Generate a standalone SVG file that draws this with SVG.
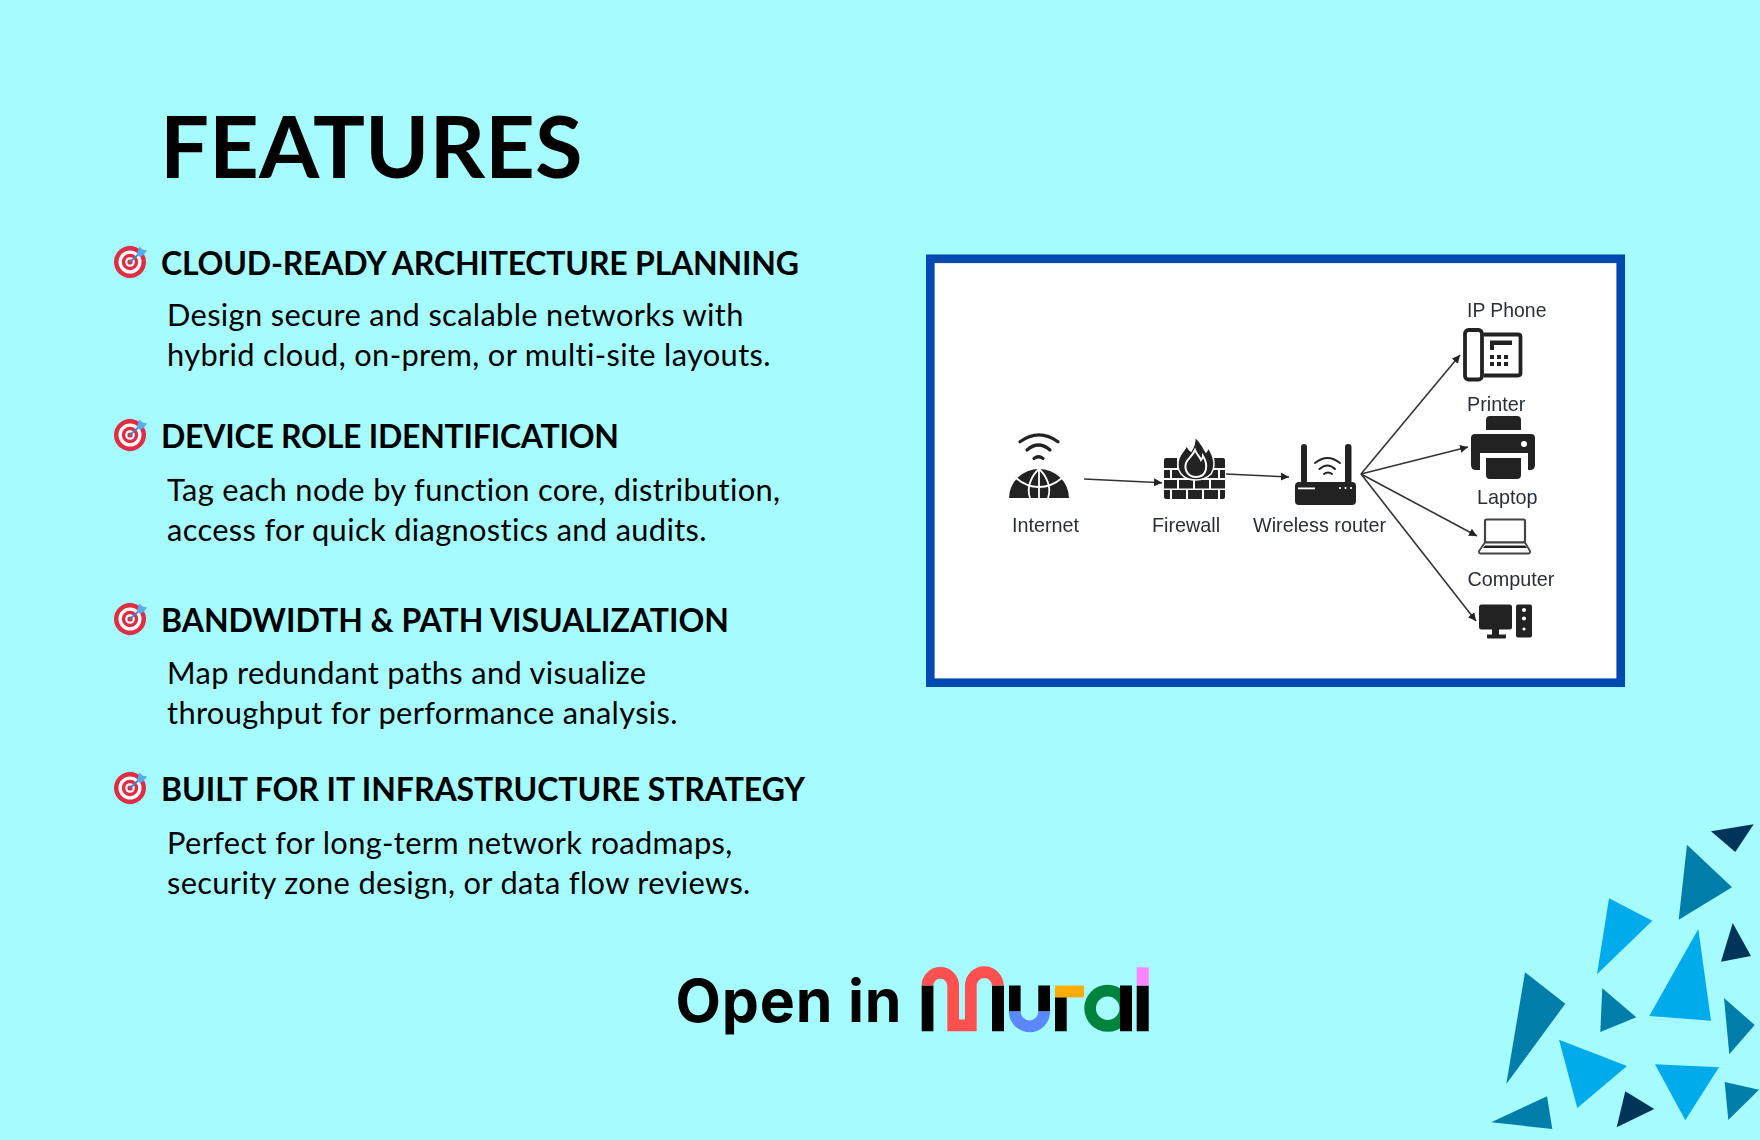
<svg xmlns="http://www.w3.org/2000/svg" width="1760" height="1140" viewBox="0 0 1760 1140">
<style>
.h{font:700 32px Lato,sans-serif;fill:#000;font-variant-ligatures:none}
.b{font:400 30.800px Lato,sans-serif;fill:#000;letter-spacing:.35px}
.l{font:400 19.800px "Liberation Sans",Arial,sans-serif;fill:#2b2f36}
.i{fill:#222}
.w{fill:none;stroke:#222;stroke-width:3.200;stroke-linecap:round}
.g{fill:none;stroke:#fff;stroke-width:1.800}
.c{fill:none;stroke:#333;stroke-width:1.600;marker-end:url(#a)}
.br{fill:#00abeb}.te{fill:#007da8}.da{fill:#003459}
</style>
<defs>
<marker id="a" markerUnits="userSpaceOnUse" markerWidth="10" markerHeight="10" refX="8" refY="4" orient="auto"><path d="M0,0L8,4L0,8z" fill="#222"/></marker>
<filter id="s" x="0" y="0" width="1" height="1"><feGaussianBlur stdDeviation="0.45"/></filter>
<g id="target">
<circle r="16" fill="#dd2e44"/><circle r="11.500" fill="#fff"/><circle r="8.200" fill="#dd2e44"/><circle r="4.800" fill="#fff"/><circle r="2.600" fill="#dd2e44"/>
<path d="M0,0L11,-10" stroke="#3b88c3" stroke-width="1.800"/>
<path d="M7,-8L9.500,-15.500L12.500,-12.500L17,-11.500L13.500,-7L10,-5z" fill="#55acee"/>
</g>
</defs>
<rect width="1760" height="1140" fill="#a6fbff"/>
<text x="160" y="178" font-family="Lato,sans-serif" font-weight="700" font-size="86.700" fill="#000">FEATURES</text>
<g id="feature-1"><use href="#target" x="130" y="262"/><text class="h" x="161" y="275" textLength="638" lengthAdjust="spacing">CLOUD-READY ARCHITECTURE PLANNING</text><text class="b" x="167" y="326">Design secure and scalable networks with</text><text class="b" x="167" y="366">hybrid cloud, on-prem, or multi-site layouts.</text></g>
<g id="feature-2"><use href="#target" x="130" y="435"/><text class="h" x="161" y="448" textLength="458" lengthAdjust="spacing">DEVICE ROLE IDENTIFICATION</text><text class="b" x="167" y="501">Tag each node by function core, distribution,</text><text class="b" x="167" y="541">access for quick diagnostics and audits.</text></g>
<g id="feature-3"><use href="#target" x="130" y="619"/><text class="h" x="161" y="632" textLength="568" lengthAdjust="spacing">BANDWIDTH &amp; PATH VISUALIZATION</text><text class="b" x="167" y="684">Map redundant paths and visualize</text><text class="b" x="167" y="724">throughput for performance analysis.</text></g>
<g id="feature-4"><use href="#target" x="130" y="788"/><text class="h" x="161" y="801" textLength="644" lengthAdjust="spacing">BUILT FOR IT INFRASTRUCTURE STRATEGY</text><text class="b" x="167" y="854">Perfect for long-term network roadmaps,</text><text class="b" x="167" y="894">security zone design, or data flow reviews.</text></g>

<rect x="930.300" y="258.800" width="690.400" height="423.900" fill="#fff" stroke="#0049b0" stroke-width="8.600"/>
<g filter="url(#s)">
<g id="connectors">
<path class="c" d="M1084,479L1162,482.700"/>
<path class="c" d="M1226,474L1289,477"/>
<path class="c" d="M1361,474L1460,355"/>
<path class="c" d="M1361,474L1468,447"/>
<path class="c" d="M1361,474L1477,536"/>
<path class="c" d="M1361,474L1476,621"/>
</g>
<g id="internet">
<path class="i" d="M1009,498A30,29 0 0 1 1069,498z"/>
<path class="g" d="M1039,469V498M1030,498C1026,487 1032,475 1039,469C1046,475 1052,487 1048,498M1016,478C1030,490 1048,490 1062,478"/>
<path class="w" d="M1020,441.700Q1039,428 1058,441.700M1027,450Q1038.500,440 1050,450M1034,458.500Q1038.500,455 1043,458.500"/>
<text class="l" x="1012" y="531.500">Internet</text>
</g>
<g id="firewall">
<path class="i" d="M1164,460q0,-2 2,-2h11v10h-13zM1213,458h10q2,0 2,2v8h-12zM1164,470h6v8h-6zM1172,470h14v8h-14zM1188,470h14v8h-14zM1204,470h14v8h-14zM1220,470h5v8h-5zM1164,480h13v8.500h-13zM1179,480h14v8.500h-14zM1195,480h14v8.500h-14zM1211,480h14v8.500h-14zM1164,490h6v9h-4q-2,0 -2,-2zM1172,490h14v9h-14zM1188,490h14v9h-14zM1204,490h14v9h-14zM1220,490h5v7q0,2 -2,2h-3z"/>
<path d="M1196,480C1182,480 1175,470 1179,458C1181,452 1185,450 1187,445C1188,448 1189,450 1191,451C1194,447 1195,442 1195,437C1201,442 1204,449 1206,452C1207,451 1208,449 1208,447C1214,456 1216,466 1211,474C1207,478 1202,480 1196,480z" fill="#222" stroke="#fff" stroke-width="1.500"/>
<path d="M1196,477C1188,477 1184,470 1186,463C1188,458 1192,457 1195,450C1197,455 1200,457 1201,460C1202,459 1203,458 1203,456C1208,464 1208,477 1196,477z" fill="none" stroke="#fff" stroke-width="2"/>
<text class="l" x="1152" y="531.500">Firewall</text>
</g>
<g id="router">
<rect class="i" x="1295" y="482" width="61" height="23" rx="4"/>
<rect class="i" x="1301" y="444" width="6" height="40" rx="3"/><rect class="i" x="1345" y="444" width="6.500" height="40" rx="3"/>
<rect x="1298" y="487.500" width="17" height="1.800" fill="#fff"/><circle cx="1340" cy="488" r="1.100" fill="#fff"/><circle cx="1345.500" cy="488" r="1.100" fill="#fff"/><circle cx="1351" cy="488" r="1.100" fill="#fff"/>
<path class="w" style="stroke-width:2" d="M1315,463Q1327.500,453 1340,463M1319.500,469Q1327.500,462 1335,469M1324,474Q1328,471 1332,474"/>
<text class="l" x="1253" y="531.500">Wireless router</text>
</g>
<g id="ip-phone">
<text class="l" x="1467" y="316.500" style="font-size:19.400px">IP Phone</text>
<rect x="1465" y="330" width="17" height="49.500" rx="3.500" fill="#fff" stroke="#222" stroke-width="3.800"/>
<path d="M1484,334.500H1518Q1520.500,334.500 1520.500,337V373Q1520.500,375.500 1518,375.500H1484" fill="#fff" stroke="#222" stroke-width="3.800"/>
<path class="i" d="M1490,340.500H1512V345H1494V350H1490z"/>
<path class="i" d="M1490,355h4v4h-4zM1497,355h4v4h-4zM1504,355h4v4h-4zM1490,362h4v4h-4zM1497,362h4v4h-4zM1504,362h4v4h-4z"/>
</g>
<g id="printer">
<text class="l" x="1467" y="410.500">Printer</text>
<path class="i" d="M1486,430V420q0,-4 4,-4h27q4,0 4,4v10zM1475,434H1531q4,0 4,4V465q0,5 -5,5H1528V453H1480V470H1476q-5,0 -5,-5V438q0,-4 4,-4zM1486,458H1521V475q0,4 -4,4H1490q-4,0 -4,-4z"/>
<circle cx="1524" cy="444" r="3" fill="#fff"/>
</g>
<g id="laptop">
<text class="l" x="1477" y="503.500">Laptop</text>
<rect x="1485" y="519.500" width="40" height="23" rx="1.500" fill="#fff" stroke="#444" stroke-width="2.200"/>
<path d="M1485,542.500H1525L1530,551Q1530.500,553.500 1528,553.500H1481Q1478.500,553.500 1479,551z" fill="#fff" stroke="#444" stroke-width="1.800"/>
<path class="i" d="M1485,545.500H1525L1527,548H1483z"/>
</g>
<g id="computer">
<text class="l" x="1467.500" y="585.500">Computer</text>
<rect class="i" x="1479" y="604.500" width="33" height="25" rx="2.500"/>
<path class="i" d="M1492,628.500h7v6h7v3q0,1 -1,1h-17q-1,0 -1,-1v-3h5z"/>
<rect class="i" x="1516" y="604.500" width="16" height="33" rx="2"/>
<circle cx="1524" cy="610" r="2.100" fill="#fff"/><circle cx="1524" cy="618.500" r="2.100" fill="#fff"/><circle cx="1524" cy="629" r="1.600" fill="#fff"/>
</g>
</g>

<g id="open-in-mural">
<text x="675.500" y="1022.300" font-family="Inter,sans-serif" font-weight="700" font-size="59" letter-spacing=".8" fill="#000">Open in</text>
<g transform="translate(0,.6)">
<circle cx="1107.700" cy="1007.700" r="17.600" fill="none" stroke="#00843d" stroke-width="11.700"/>
<path d="M921.700,985H933.400V1030.700H921.700zM992,985H1004V1030.700H992zM1009,985H1020.600V1011H1009zM1038.300,985H1050V1011H1038.300zM1055,996.700H1066.700V1030.700H1055zM1120,985H1132V1030.700H1120zM1136.700,985H1148.700V1030.700H1136.700z" fill="#000"/>
<path d="M927.500,985A12.850,12.850 0 0 1 953.200,985V1024.700H970.800V985A13.500,13.500 0 0 1 997.800,985" fill="none" stroke="#ff5050" stroke-width="11.700"/>
<path d="M1014.800,1011A14.700,14.700 0 0 0 1044.200,1011" fill="none" stroke="#5c88ff" stroke-width="11.700"/>
<rect x="1055" y="985" width="29" height="11.700" fill="#ffaa00"/>
<rect x="1136.700" y="966.700" width="12" height="18.300" fill="#ff85ff"/>
</g>
</g>

<g id="triangles">
<polygon class="da" points="1711,831.300 1753.700,824.300 1735.300,852"/>
<polygon class="te" points="1687,844.700 1732,887.300 1678.700,919.700"/>
<polygon class="br" points="1609,898.300 1652.300,920.700 1597,974.300"/>
<polygon class="da" points="1732.700,923 1751,956 1721,961.700"/>
<polygon class="br" points="1698.300,929 1711,1020.700 1649.300,1016"/>
<polygon class="te" points="1525,972.300 1565.300,1003.700 1506.300,1084"/>
<polygon class="te" points="1602.300,988.300 1636.300,1017.300 1600.300,1032"/>
<polygon class="te" points="1724,998 1754.700,1025 1729.300,1054.300"/>
<polygon class="br" points="1559,1039.700 1627,1066 1577.300,1108"/>
<polygon class="br" points="1655,1064.300 1719,1067.300 1685.300,1120.300"/>
<polygon class="te" points="1724.700,1082 1759,1089.700 1728.300,1120"/>
<polygon class="da" points="1625.300,1091.300 1654.300,1109 1616.700,1127.300"/>
<polygon class="te" points="1491.300,1122.300 1547,1096.300 1552.300,1129"/>
</g>
</svg>
